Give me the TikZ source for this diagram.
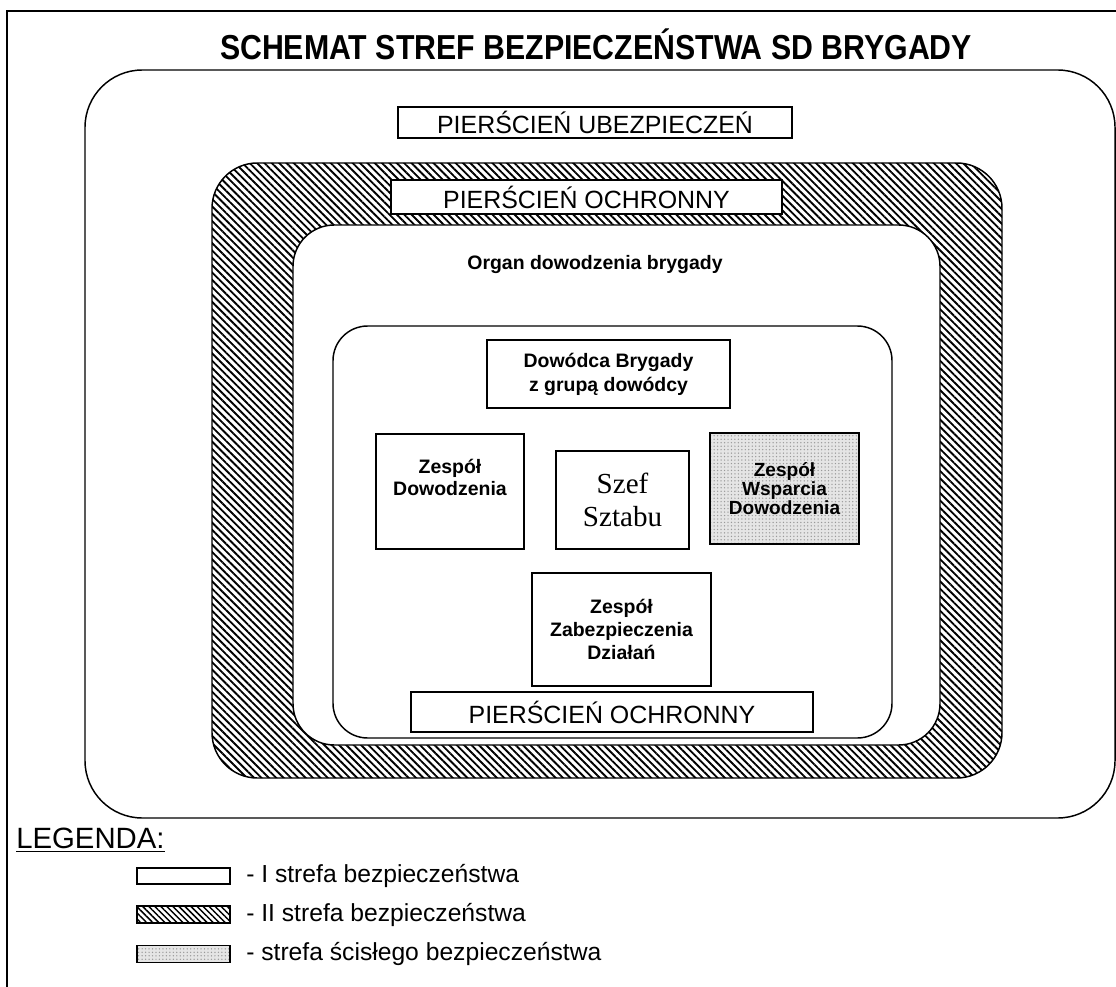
\documentclass[tikz,border=0pt]{standalone}
\usepackage{fontspec}
\setmainfont{Liberation Sans}
\newfontfamily\tmsfont{Liberation Serif}
\usetikzlibrary{patterns.meta}
\newsavebox\fitbox
\newlength\fitlen
\newcommand\fitw[2]{\sbox\fitbox{#2}\setlength\fitlen{\wd\fitbox}\pgfmathsetmacro\fitf{#1/\fitlen}\scalebox{\fitf}[1]{\usebox\fitbox}}
\begin{document}
\begin{tikzpicture}[x=0.75pt,y=-0.75pt,
  box/.style={draw,line width=0.9pt,fill=white,inner sep=0pt,align=center},
  wh/.style 2 args={minimum width=#1*0.75pt,minimum height=#2*0.75pt},
  boldtxt/.style={font=\fontsize{14.6}{18}\selectfont\bfseries},
  ringtxt/.style={font=\fontsize{18.7}{22}\selectfont},
  hatch/.style={pattern={Lines[angle=-45,distance=3.9pt,line width=1.4pt]}},
  hatchsm/.style={pattern={Lines[angle=-45,distance=3.2pt,line width=1.1pt]}},
  dotfill/.style={preaction={fill=black!10},pattern={Dots[distance=2.6pt,radius=0.55pt]},pattern color=black!40},
  zone/.style={draw,line width=1.1pt},
  legtxt/.style={anchor=west,inner sep=0pt,font=\fontsize{18.5}{22}\selectfont}
]
\useasboundingbox (0,0) rectangle (1116,987);
\fill[white] (0,0) rectangle (1116,987);
\draw[line width=1.3pt] (1116,11) -- (7,11) -- (7,987);

\node[font=\fontsize{26}{30}\selectfont\bfseries,inner sep=0pt] (title) at (596,44) {\fitw{564pt}{SCHEMAT STREF BEZPIECZEŃSTWA SD BRYGADY}};

% zones
\draw[zone,rounded corners=43pt] (85,70) rectangle (1115,818);
\draw[zone,hatch,rounded corners=34pt] (212,163) rectangle (1002,778);
\draw[zone,fill=white,rounded corners=31pt] (293,225) rectangle (940,745);
\draw[zone,fill=white,rounded corners=26pt] (333,326) rectangle (892,738);

% labels and boxes
\node[box,ringtxt,wh={394}{31}] (ubez) at (595,122.5) {PIERŚCIEŃ UBEZPIECZEŃ};
\node[box,ringtxt,wh={391}{34}] (ochr1) at (586.5,197) {PIERŚCIEŃ OCHRONNY};
\node[boldtxt,inner sep=0pt] (organ) at (595,265) {Organ dowodzenia brygady};
\node[box,boldtxt,wh={243}{68}] (dow) at (608.5,374) {Dowódca Brygady\\z grupą dowódcy};
\node[box,wh={148}{115},font=\fontsize{14.6}{16.5}\selectfont\bfseries] (zd) at (450,491.5) {Zespół\\Dowodzenia\\[5pt]};
\node[box,wh={133}{98},font=\fontsize{21.8}{25}\selectfont\tmsfont] (szef) at (622.5,500) {Szef\\Sztabu};
\node[box,dotfill,wh={149}{111},font=\fontsize{14.3}{14.3}\selectfont\bfseries] (zwd) at (784.5,488.5) {Zespół\\Wsparcia\\Dowodzenia};
\node[box,wh={179}{113},font=\fontsize{14.6}{17.3}\selectfont\bfseries] (zzd) at (621.5,629.5) {Zespół\\Zabezpieczenia\\Działań};
\node[box,ringtxt,wh={402}{40}] (ochr2) at (612,712) {PIERŚCIEŃ OCHRONNY};

% legend
\node[anchor=west,inner sep=0pt,font=\fontsize{22}{26}\selectfont] (leg) at (16,840) {\underline{LEGENDA:}};
\node[draw,line width=0.9pt,fill=white,inner sep=0pt,wh={93}{16}] (sw1) at (183.5,876) {};
\node[draw,line width=0.9pt,hatchsm,inner sep=0pt,wh={93}{17}] (sw2) at (183.5,914.5) {};
\node[draw,line width=0.9pt,dotfill,inner sep=0pt,wh={93}{17}] (sw3) at (183.5,954) {};
\node[legtxt] (lt1) at (246,876) {- I strefa bezpieczeństwa};
\node[legtxt] (lt2) at (246,914.5) {- II strefa bezpieczeństwa};
\node[legtxt] (lt3) at (246,954) {- strefa ścisłego bezpieczeństwa};
\end{tikzpicture}
\end{document}
